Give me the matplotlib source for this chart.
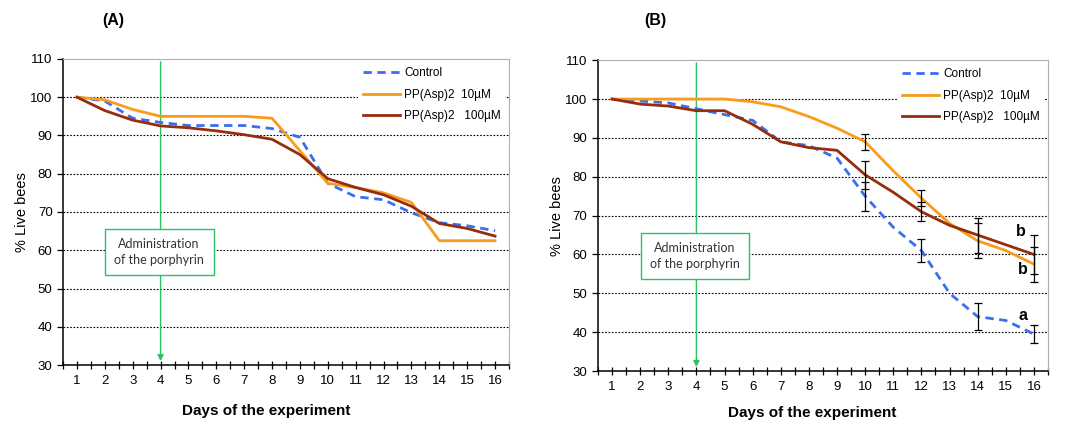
import matplotlib.pyplot as plt
import numpy as np

days = np.arange(1, 17)

# Panel A
a_control = [100, 99, 94.5, 93.4, 92.6, 92.6, 92.6, 91.8, 89.5, 77.5, 74, 73.2, 69.8, 67.2, 66.4, 65.1]
a_10 = [100, 99.3, 96.8, 95, 95, 95, 95, 94.5, 86, 77.5, 76.4, 75, 72.5, 62.5, 62.5, 62.5]
a_100 = [100, 96.5, 94, 92.5, 92, 91.2, 90.2, 89, 85, 78.7, 76.4, 74.5, 71.5, 67, 65.7, 63.7]

# Panel B
b_control = [100, 99.5, 99, 97.5, 96, 94.5, 89, 88, 84.8, 75, 67, 61, 50, 44, 43, 39.5]
b_10 = [100, 100, 100, 100, 100, 99.3, 98, 95.5, 92.5, 89, 81.5, 74.5, 68, 63.5, 61, 57.5]
b_100 = [100, 98.7, 98.2, 97, 97, 93.5, 89, 87.5, 86.8, 80.5, 76, 71, 67.5, 65, 62.5, 60]

err_days = [10, 12, 14, 16]
err_control = [3.7, 3, 3.4, 2.3]
err_10 = [2, 2, 4.5, 4.5]
err_100 = [3.6, 2.5, 4.5, 5]

letters = ['b', 'b', 'a']
letter_x = [15.55, 15.6, 15.6]
letter_y = [65.8, 56, 44.4]

labels = ['Control', 'PP(Asp)2  10µM', 'PP(Asp)2   100µM']
c_blue = '#3a6df0'
c_orange = '#f99b1c'
c_brown = '#962d0c'
c_green = '#2ec061'

plt.rcParams['font.family'] = ['Liberation Sans', 'DejaVu Sans']

fig = plt.figure(figsize=(10.72, 4.24), dpi=100)
ax_a = fig.add_axes([0.0588, 0.139, 0.416, 0.722])
ax_b = fig.add_axes([0.5578, 0.125, 0.4198, 0.733])


def style_axes(ax):
    ax.set_xlim(0.5, 16.5)
    ax.set_ylim(30, 110)
    ax.set_yticks(range(30, 111, 10))
    ax.set_xticks(days)
    ax.set_xticks(np.arange(0.5, 16.6, 0.5), minor=True)
    ax.tick_params(axis='x', which='both', direction='inout', length=6, width=0.9, labelsize=9.5, pad=4)
    ax.tick_params(axis='y', direction='out', length=4, width=0.9, labelsize=9.5)
    for y in range(40, 101, 10):
        ax.axhline(y, color='black', linestyle=(0, (1.5, 1.5)), linewidth=0.8, zorder=1)
    for side in ['top', 'right']:
        ax.spines[side].set_color('#b0b0b0')
    for side in ['left', 'bottom']:
        ax.spines[side].set_color('black')
        ax.spines[side].set_linewidth(1.1)
    ax.set_ylabel('% Live bees', fontsize=10.5, labelpad=1)
    # porphyrin administration marker
    ax.annotate('', xy=(4, 30.3), xytext=(4, 110),
                arrowprops=dict(arrowstyle='-|>', color=c_green, lw=1.0, mutation_scale=9), zorder=3)
    ax.text(3.95, 59.6, 'Administration\nof the porphyrin', ha='center', va='center', fontsize=9,
            family='Lato', color='#333333', linespacing=1.35, zorder=4,
            bbox=dict(boxstyle='square,pad=0.75', fc='white', ec=c_green, lw=1.0))


def draw_series(ax, control, p10, p100):
    ax.plot(days, control, color=c_blue, lw=2, dashes=(3, 2), label=labels[0], zorder=5)
    ax.plot(days, p10, color=c_orange, lw=2, label=labels[1], zorder=5)
    ax.plot(days, p100, color=c_brown, lw=2, label=labels[2], zorder=5)
    leg = ax.legend(loc='upper right', frameon=True, fontsize=8.5, handlelength=3.2,
                    borderaxespad=0.3, labelspacing=0.8, handletextpad=0.3)
    leg.get_frame().set_edgecolor('none')
    leg.get_frame().set_facecolor('white')
    leg.get_frame().set_alpha(1)
    leg.set_zorder(6)


style_axes(ax_a)
draw_series(ax_a, a_control, a_10, a_100)

style_axes(ax_b)
draw_series(ax_b, b_control, b_10, b_100)

idx = [d - 1 for d in err_days]
for series, err in [(b_control, err_control), (b_10, err_10), (b_100, err_100)]:
    ax_b.errorbar(err_days, [series[i] for i in idx], yerr=err, fmt='none',
                  ecolor='black', elinewidth=0.9, capsize=3, capthick=0.9, zorder=6)

for t, x, y in zip(letters, letter_x, letter_y):
    ax_b.text(x, y, t, ha='center', va='center', fontsize=11.5, fontweight='bold', zorder=7)

fig.text(113 / 1072, 1 - 20 / 424, '(A)', ha='center', va='center', fontsize=11.5, fontweight='bold')
fig.text(655 / 1072, 1 - 20 / 424, '(B)', ha='center', va='center', fontsize=11.5, fontweight='bold')
fig.text(266 / 1072, 1 - 411 / 424, 'Days of the experiment', ha='center', va='center',
         fontsize=11, fontweight='bold')
fig.text(812 / 1072, 1 - 413 / 424, 'Days of the experiment', ha='center', va='center',
         fontsize=11, fontweight='bold')

fig.savefig('out.png', dpi=100)
